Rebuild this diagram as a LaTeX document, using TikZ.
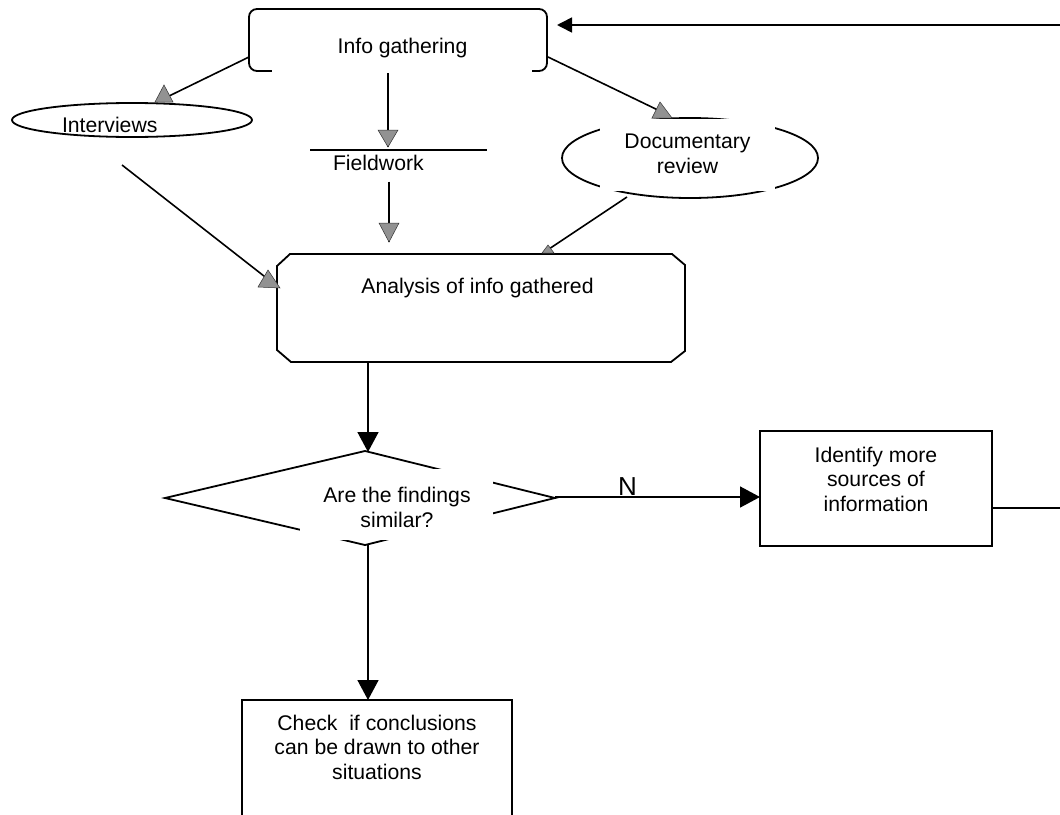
\documentclass[tikz,border=0pt]{standalone}
\usepackage{fontspec}
\setmainfont{Liberation Sans}
\usetikzlibrary{arrows.meta,shapes.geometric,calc}
\begin{document}
\begin{tikzpicture}[x=1pt,y=-1pt,
  line width=1.6pt,
  every node/.style={font=\fontsize{21.2}{24.5}\selectfont, inner sep=0pt, outer sep=0pt},
  shapebox/.style={draw, line width=1.8pt},
  ghost/.style={draw=none},
  cover/.style={fill=white, draw=none},
  ghead/.style={fill=gray!45!black!55, draw=gray!40!black, line width=0.5pt},
  blk/.style={-{Triangle[length=20pt,width=21pt]}},
  blksmall/.style={-{Triangle[length=15pt,width=15pt]}},
]
\clip (0,0) rectangle (1060,814);
\fill[white] (0,0) rectangle (1060,814);

% ---------- shapes ----------
\node[shapebox, rounded corners=8pt, minimum width=298pt, minimum height=62pt] (info) at (398,40) {};
\node[shapebox, ellipse, minimum width=240pt, minimum height=34pt] (interviews) at (132,120) {};
\node[ghost, minimum width=177pt] (field) at (398.5,150) {};
\draw[line width=1.8pt] (field.west) -- (field.east);
\node[shapebox, ellipse, minimum width=256pt, minimum height=80pt] (docrev) at (690,158) {};
\node[ghost, minimum width=408pt, minimum height=108pt] (analysis) at (481,308) {};
\draw[line width=1.8pt]
  ($(analysis.north west)+(13,0)$) -- ($(analysis.north east)+(-13,0)$)
  -- ($(analysis.north east)+(0,11)$) -- ($(analysis.south east)+(0,-11)$)
  -- ($(analysis.south east)+(-14,0)$) -- ($(analysis.south west)+(14,0)$)
  -- ($(analysis.south west)+(0,-12)$) -- ($(analysis.north west)+(0,12)$) -- cycle;
\node[ghost, minimum width=390pt, minimum height=94pt] (decision) at (360,498) {};
\draw[line width=1.8pt] (decision.west) -- ($(decision.north)+(5,0)$) -- (decision.east)
  -- ($(decision.south)+(5,0)$) -- cycle;
\node[shapebox, minimum width=232pt, minimum height=115pt] (identify) at (876,488.5) {};
\node[shapebox, minimum width=270pt, minimum height=130pt] (check) at (377,765) {};

% ---------- white text areas ----------
\node[cover, minimum width=260pt, minimum height=50pt] (infocover) at (402,48) {};
\node[cover, minimum width=175pt, minimum height=72pt] (doccover) at (687.5,155) {};
\node[cover, minimum width=193pt, minimum height=71pt] (deccover) at (396.5,504.5) {};

% ---------- texts (base = baseline of last line) ----------
\node[anchor=base] (infotext) at (402.5,53) {Info gathering};
\node[anchor=base west] (intext) at (62,132) {Interviews};
\node[anchor=base west] (fieldtext) at (333,170) {Fieldwork};
\node[anchor=base, align=center] (doctext) at (687.5,173) {Documentary\\review};
\node[anchor=base] (anatext) at (477.5,293) {Analysis of info gathered};
\node[anchor=base, align=center] (dectext) at (397,527) {Are the findings\\similar?};
\node[anchor=base, align=center] (idtext) at (876,511) {Identify more\\sources of\\information};
\node[anchor=base, align=center] (checktext) at (377,779) {Check\ \ if conclusions\\can be drawn to other\\situations};
\node[anchor=base west, font=\fontsize{26}{30}\selectfont] (nlabel) at (618,495) {N};

% ---------- connectors ----------
\coordinate (rightA) at (1062,508);
\coordinate (rightB) at (1062,25);
\draw ($(identify.east)+(0,19.5)$) -- (rightA);
\draw[blksmall] (rightB) -- ($(info.east)+(10,-15)$);

\draw ($(info.west)+(0,17)$) -- ($(interviews.north)+(33,-5)$);
\fill[ghead] (155,102) -- (164,85) -- (173,102) -- cycle;

\draw ($(info.south)+(-10,2)$) -- ($(field.north)+(-10.5,-3)$);
\fill[ghead] (378,130) -- (398,130) -- (388,147) -- cycle;

\draw ($(field.south)+(-9.5,31)$) -- ($(analysis.north)+(-92,-12)$);
\fill[ghead] (379,223) -- (399,223) -- (389,242) -- cycle;

\draw ($(info.east)+(1,17)$) -- ($(docrev.north)+(-28,-6)$);
\fill[ghead] (652,118) -- (660,102) -- (672,118) -- cycle;

\draw ($(interviews.south)+(-10,28)$) -- ($(analysis.west)+(1,-21)$);
\fill[ghead] (258,287) -- (268,270) -- (280,288) -- cycle;

\draw ($(docrev.south)+(-63,-1)$) -- ($(analysis.north)+(62,-1)$);
\fill[ghead] (542,253) -- (548,245) -- (554,253) -- cycle;

\draw[blk] ($(analysis.south)+(-113,0)$) -- ($(decision.north)+(8,1)$);
\draw[blk] ($(decision.east)+(0,-1)$) -- ($(identify.west)+(0,8.5)$);
\draw[blk] ($(decision.south)+(8,-1)$) -- ($(check.north)+(-9,0)$);
\end{tikzpicture}
\end{document}
